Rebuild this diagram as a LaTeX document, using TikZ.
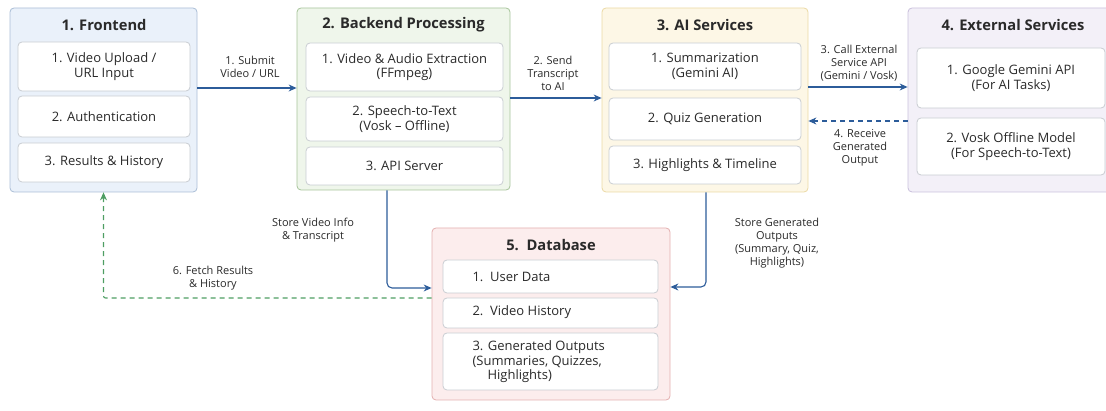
\documentclass[tikz,border=0pt]{standalone}
\usepackage{fontspec}
\setmainfont{Open Sans}
\usetikzlibrary{arrows.meta}
\definecolor{txt}{HTML}{2A2A2A}
\definecolor{frontfill}{HTML}{EAF1FA}\definecolor{frontdraw}{HTML}{A9BDD6}
\definecolor{backfill}{HTML}{EFF6EB}\definecolor{backdraw}{HTML}{A6C49A}
\definecolor{aifill}{HTML}{FDF7E6}\definecolor{aidraw}{HTML}{EBD9A4}
\definecolor{extfill}{HTML}{F3F0F8}\definecolor{extdraw}{HTML}{C9C0DC}
\definecolor{dbfill}{HTML}{FCEDED}\definecolor{dbdraw}{HTML}{E3AFAF}
\definecolor{subdraw}{HTML}{C9CDD2}
\definecolor{arrblue}{HTML}{2C5C9A}
\definecolor{arrgreen}{HTML}{4E9E63}
\tikzset{
  group/.style={draw, line width=0.8pt, rounded corners=4pt, inner sep=0pt},
  sub/.style={draw=subdraw, fill=white, line width=0.8pt, rounded corners=4pt, inner sep=0pt, text=txt, font=\fontsize{13}{14.5}\selectfont, align=center},
  title/.style={text=txt, font=\fontsize{14.7}{17}\selectfont\bfseries},
  lbl/.style={text=txt, font=\fontsize{11}{13}\selectfont, align=center},
  dbtxt/.style={text=txt, font=\fontsize{13}{14.5}\selectfont, align=left, anchor=west},
  arr/.style={draw=arrblue, line width=1.1pt, -{Stealth[length=8pt,width=7pt]}},
  garr/.style={draw=arrgreen, line width=1.1pt, dashed, dash pattern=on 5pt off 4pt, -{Stealth[length=8pt,width=7pt]}},
  barr/.style={arr, dashed, dash pattern=on 5pt off 4pt},
}
\begin{document}
\begin{tikzpicture}[x=1pt,y=-1pt]
\useasboundingbox (0,0) rectangle (1106,411);
\clip (0,0) rectangle (1106,411);
% groups
\node[group, draw=frontdraw, fill=frontfill, minimum width=187pt, minimum height=184pt] (front) at (103.5,100) {};
\node[group, draw=backdraw, fill=backfill, minimum width=213pt, minimum height=182pt] (back) at (403.5,99) {};
\node[group, draw=aidraw, fill=aifill, minimum width=206pt, minimum height=184pt] (ai) at (705,100) {};
\node[group, draw=extdraw, fill=extfill, minimum width=207pt, minimum height=184pt] (ext) at (1011.5,100) {};
\node[group, draw=dbdraw, fill=dbfill, minimum width=238pt, minimum height=172pt] (db) at (551,314) {};
% titles
\node[title] (tfront) at (104,25) {1. Frontend};
\node[title] (tback) at (403.5,25) {2. Backend Processing};
\node[title] (tai) at (705,25) {3. AI Services};
\node[title] (text) at (1013,25) {4. External Services};
\node[title] (tdb) at (551,245) {5.\ \ Database};
% frontend subs
\node[sub, minimum width=172pt, minimum height=49pt] (f1) at (104,66.5) {1. Video Upload /\\URL Input};
\node[sub, minimum width=172pt, minimum height=41pt] (f2) at (104,116.5) {2. Authentication};
\node[sub, minimum width=172pt, minimum height=39pt] (f3) at (104,162.5) {3. Results \& History};
% backend subs
\node[sub, minimum width=197pt, minimum height=48pt] (b1) at (404.5,67) {1. Video \& Audio Extraction\\(FFmpeg)};
\node[sub, minimum width=197pt, minimum height=44pt] (b2) at (404.5,119) {2. Speech-to-Text\\(Vosk – Offline)};
\node[sub, minimum width=197pt, minimum height=38pt] (b3) at (404.5,166) {3. API Server};
% ai subs
\node[sub, minimum width=192pt, minimum height=47pt] (a1) at (705,66.5) {1. Summarization\\(Gemini AI)};
\node[sub, minimum width=192pt, minimum height=42pt] (a2) at (705,119) {2. Quiz Generation};
\node[sub, minimum width=192pt, minimum height=38pt] (a3) at (705,165) {3. Highlights \& Timeline};
% external subs
\node[sub, minimum width=188pt, minimum height=60pt] (e1) at (1011,78) {1. Google Gemini API\\(For AI Tasks)};
\node[sub, minimum width=188pt, minimum height=57pt] (e2) at (1011,146.5) {2. Vosk Offline Model\\(For Speech-to-Text)};
% db subs
\node[sub, minimum width=215pt, minimum height=33pt] (d1) at (550.5,276.5) {};
\node[sub, minimum width=215pt, minimum height=30pt] (d2) at (550.5,313) {};
\node[sub, minimum width=215pt, minimum height=57pt] (d3) at (550.5,361.5) {};
\node[dbtxt] (d1t) at (469,277) {1.\ \ User Data};
\node[dbtxt] (d2t) at (469,312) {2.\ \ Video History};
\node[dbtxt] (d3t) at (469,362) {3. Generated Outputs\\(Summaries, Quizzes,\\\hspace*{15pt}Highlights)};
% connectors
\draw[arr] ([yshift=12pt]front.east) -- ([yshift=12pt]front.east -| back.west);
\node[lbl] (l1) at (250,66.5) {1. Submit\\Video / URL};
\draw[arr] ([yshift=1pt]back.east) -- ([yshift=1pt]back.east -| ai.west);
\node[lbl] (l2) at (553,73) {2. Send\\Transcript\\to AI};
\draw[arr] ([yshift=13pt]ai.east) -- ([yshift=13pt]ai.east -| ext.west);
\node[lbl] (l3) at (859,63) {3. Call External\\Service API\\(Gemini / Vosk)};
\draw[barr] ([yshift=-21pt]ext.west) -- ([yshift=-21pt]ext.west -| ai.east);
\node[lbl] (l4) at (860,148) {4. Receive\\Generated\\Output};
\draw[arr, rounded corners=5pt] ([xshift=-16.5pt]back.south) |- ([yshift=26pt]db.west);
\node[lbl] (l5) at (313,230) {Store Video Info\\\& Transcript};
\draw[arr, rounded corners=5pt] ([xshift=1pt]ai.south) |- ([yshift=27pt]db.east);
\node[lbl] (l6) at (777,243) {Store Generated\\Outputs\\(Summary, Quiz,\\Highlights)};
\draw[garr, rounded corners=2pt] ([yshift=16pt]db.west) -| (front.south);
\node[lbl] (l7) at (213,278) {6. Fetch Results\\\& History};
\end{tikzpicture}
\end{document}
